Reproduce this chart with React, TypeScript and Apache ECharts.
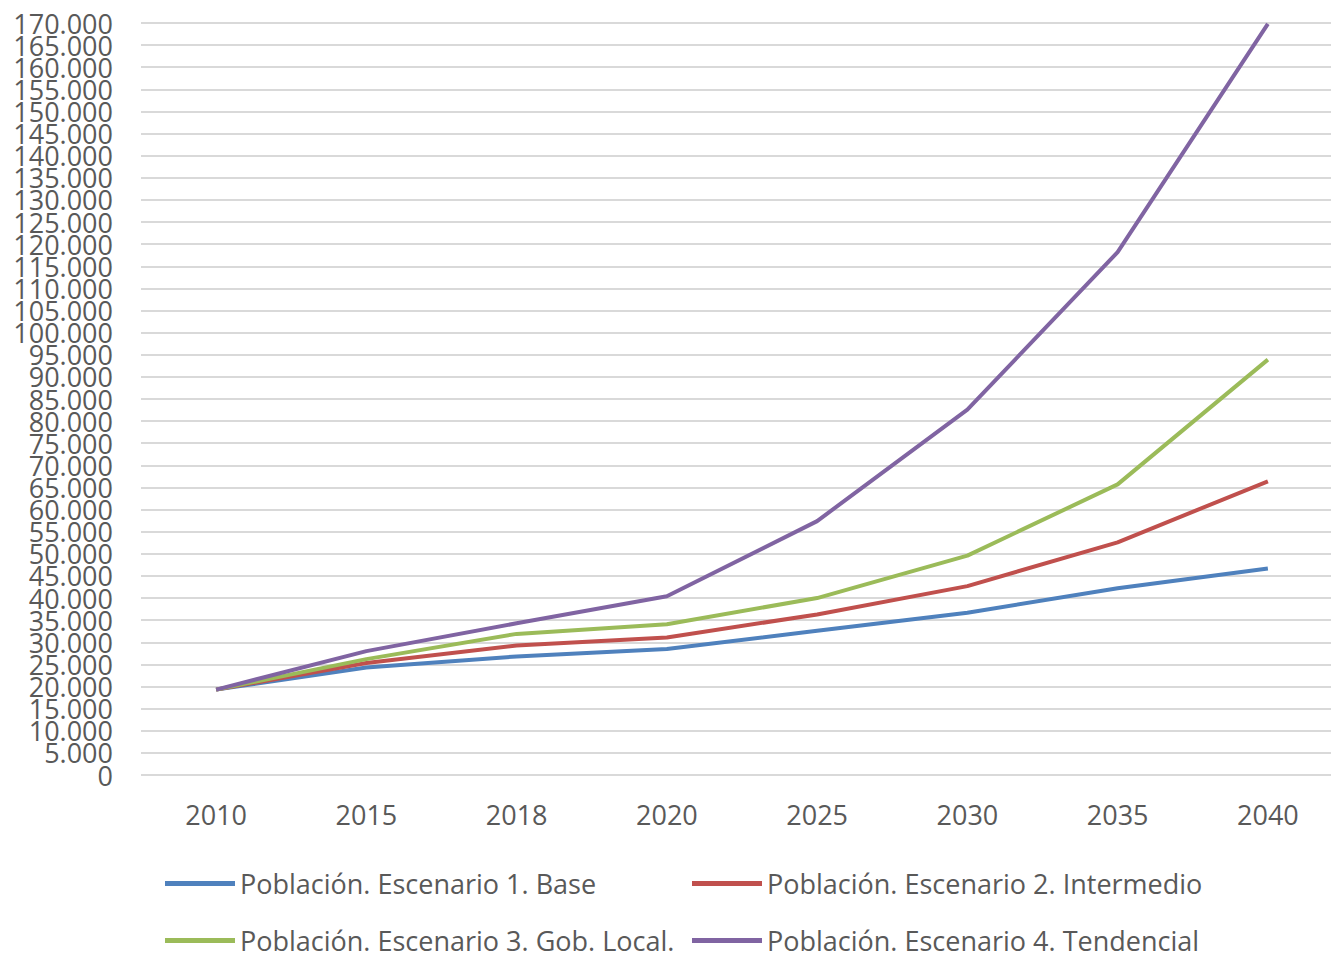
import React, { useEffect, useRef } from "react";
import * as echarts from "echarts";

const years = ["2010", "2015", "2018", "2020", "2025", "2030", "2035", "2040"];
const seriesNames = [
  "Población. Escenario 1. Base",
  "Población. Escenario 2. Intermedio",
  "Población. Escenario 3. Gob. Local.",
  "Población. Escenario 4. Tendencial",
];
const escenario1 = [19300, 24300, 26800, 28500, 32600, 36700, 42200, 46700];
const escenario2 = [19300, 25300, 29300, 31100, 36300, 42700, 52600, 66400];
const escenario3 = [19300, 26200, 31900, 34100, 40000, 49600, 65700, 93900];
const escenario4 = [19300, 28000, 34300, 40400, 57400, 82600, 118200, 169800];
const colors = ["#4F81BD", "#C0504D", "#9BBB59", "#8064A2"];
// tick labels at odd multiples of 5.000 (drawn on a second, overlaid axis)
const oddTicks = [
  5000, 15000, 25000, 35000, 45000, 55000, 65000, 75000, 85000, 95000, 105000, 115000,
  125000, 135000, 145000, 155000, 165000,
];

const fmt = (v: number) => String(v).replace(/\B(?=(\d{3})+(?!\d))/g, ".");

export default function App() {
  const ref = useRef<HTMLDivElement>(null);
  useEffect(() => {
    if (!ref.current) return;
    const chart = echarts.init(ref.current, null, { renderer: "svg" });
    const data = [escenario1, escenario2, escenario3, escenario4];
    const legendPos = [
      { left: 165, top: 870 },
      { left: 692, top: 870 },
      { left: 165, top: 927 },
      { left: 692, top: 927 },
    ];
    const font = "'Open Sans', sans-serif";
    const labelBase = {
      color: "#595959",
      fontSize: 27,
      fontFamily: font,
      margin: 28,
      showMinLabel: true,
      showMaxLabel: true,
      hideOverlap: false,
      formatter: (v: number) => fmt(v),
    };
    chart.setOption({
      animation: false,
      backgroundColor: "#ffffff",
      grid: { left: 141, right: 0, top: 23, bottom: 180 },
      xAxis: {
        type: "category",
        data: years,
        boundaryGap: true,
        axisLine: { show: false },
        axisTick: { show: false },
        axisLabel: { color: "#595959", fontSize: 27, fontFamily: font, margin: 26 },
      },
      yAxis: [
        {
          type: "value",
          position: "left",
          min: 0,
          max: 170000,
          interval: 10000,
          axisLine: { show: false },
          axisTick: { show: false },
          axisLabel: labelBase,
          splitLine: { show: false },
        },
        {
          type: "value",
          position: "left",
          offset: 0,
          min: 0,
          max: 170000,
          interval: 5000,
          axisLine: { show: false },
          axisTick: { show: false },
          axisLabel: { ...labelBase, customValues: oddTicks },
          splitLine: { lineStyle: { color: "#d9d9d9", width: 2 } },
        },
      ],
      legend: seriesNames.map((n, i) => ({
        data: [n],
        left: legendPos[i].left,
        top: legendPos[i].top,
        padding: 0,
        icon: "rect",
        itemWidth: 70,
        itemHeight: 5,
        textStyle: { color: "#595959", fontSize: 27, lineHeight: 26, fontFamily: font },
      })),
      series: seriesNames.map((n, i) => ({
        name: n,
        type: "line",
        yAxisIndex: 0,
        data: data[i],
        showSymbol: false,
        symbol: "none",
        color: colors[i],
        lineStyle: { width: 4, color: colors[i] },
      })),
    });
    return () => chart.dispose();
  }, []);
  return (
    <div
      style={{
        position: "fixed",
        left: 0,
        top: 0,
        width: 1331,
        height: 955,
        overflow: "hidden",
        background: "#fff",
      }}
    >
      <div ref={ref} style={{ width: 1343, height: 955 }} />
    </div>
  );
}
